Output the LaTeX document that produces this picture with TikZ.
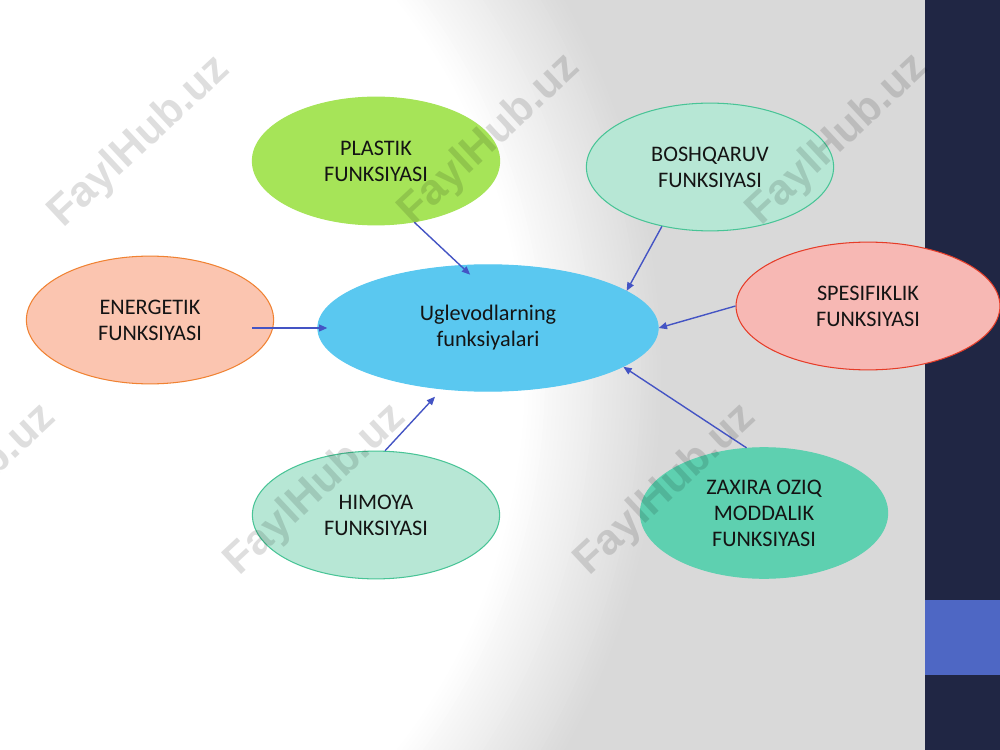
\documentclass[tikz,border=0pt]{standalone}
\usepackage{fontspec}
\setmainfont{Carlito}
\newfontfamily\markfont{Liberation Sans}
\usetikzlibrary{shapes.geometric,arrows.meta}

\definecolor{bggray}{RGB}{217,217,217}
\definecolor{navy}{RGB}{32,38,68}
\definecolor{barblue}{RGB}{78,103,196}
\definecolor{linkblue}{RGB}{68,84,196}
\definecolor{textblack}{RGB}{20,20,20}
\definecolor{plastikgreen}{RGB}{166,228,88}
\definecolor{mintfill}{RGB}{183,231,213}
\definecolor{mintline}{RGB}{72,196,150}
\definecolor{peachfill}{RGB}{251,197,176}
\definecolor{peachline}{RGB}{240,130,50}
\definecolor{skyblue}{RGB}{90,200,240}
\definecolor{rosefill}{RGB}{247,184,180}
\definecolor{roseline}{RGB}{230,60,40}
\definecolor{jadefill}{RGB}{94,208,176}

\begin{document}
\begin{tikzpicture}[x=0.72pt, y=-0.72pt,
  func/.style={ellipse, draw, line width=0.75pt, inner sep=0pt,
    minimum width=178pt, minimum height=92pt, align=center,
    text=textblack, font=\fontsize{16}{18.7}\selectfont},
  link/.style={draw=linkblue, line width=1pt, -{Triangle[length=6pt,width=5pt]}},
  faint/.style={font=\markfont\bfseries\fontsize{31}{31}\selectfont,
    text=black, text opacity=0.13, rotate=43, inner sep=0pt}]
\useasboundingbox (0,0) rectangle (1000,750);
\clip (0,0) rectangle (1000,750);

\fill[bggray] (0,0) rectangle (925,750);
\begin{scope}
    \clip (0,0) rectangle (925,750);
    \foreach \i in {0,1,...,35}
    {
    \pgfmathsetmacro\ra{665-4*\i}
    \pgfmathsetmacro\rb{\ra*1.09}
    \pgfmathsetmacro\mix{100-\i*100/35}
    \fill[bggray!\mix!white] (0,375) ellipse [x radius=\ra, y radius=\rb];
    }
\end{scope}
\fill[navy] (925,0) rectangle (1000,750);
\fill[barblue] (925,600) rectangle (1000,675);

\node[func, fill=plastikgreen, draw=plastikgreen] (plastik) at (376,161) {PLASTIK\\FUNKSIYASI};
\node[func, fill=mintfill, draw=mintline] (boshqaruv) at (710,167) {BOSHQARUV\\FUNKSIYASI};
\node[func, fill=peachfill, draw=peachline] (energetik) at (150,320) {ENERGETIK\\FUNKSIYASI};
\node[func, fill=skyblue, draw=skyblue, minimum width=245pt, minimum height=91pt] (centre) at (488,328) {Uglevodlarning\\funksiyalari};
\node[func, fill=rosefill, draw=roseline, minimum width=190pt] (spesifiklik) at (868,306) {SPESIFIKLIK\\FUNKSIYASI};
\node[func, fill=mintfill, draw=mintline] (himoya) at (376,515) {HIMOYA\\FUNKSIYASI};
\node[func, fill=jadefill, draw=jadefill, minimum height=94pt] (zaxira) at (764,513) {ZAXIRA OZIQ\\MODDALIK\\FUNKSIYASI};

\draw[link, shorten >=-10pt] (plastik.-58) -- (centre.114);
\draw[link] (boshqaruv.-129.5) -- (centre.15.3);
\draw[link, shorten <=-15.8pt, shorten >=-7.2pt] (energetik.east |- centre.west) -- (centre.west);
\draw[link] (spesifiklik.west) -- (centre.east);
\draw[link, shorten >=7.2pt] (himoya.82) -- (centre.-127);
\draw[link] (zaxira.105.7) -- (centre.-16.5);

\foreach \wx/\wy [count=\k] in {140/142, 490/140, 838/140, -34/490, 316/490, 666/490}
{
\node[faint] (wm\k) at (\wx,\wy) {FaylHub.uz};
}
\end{tikzpicture}
\end{document}
